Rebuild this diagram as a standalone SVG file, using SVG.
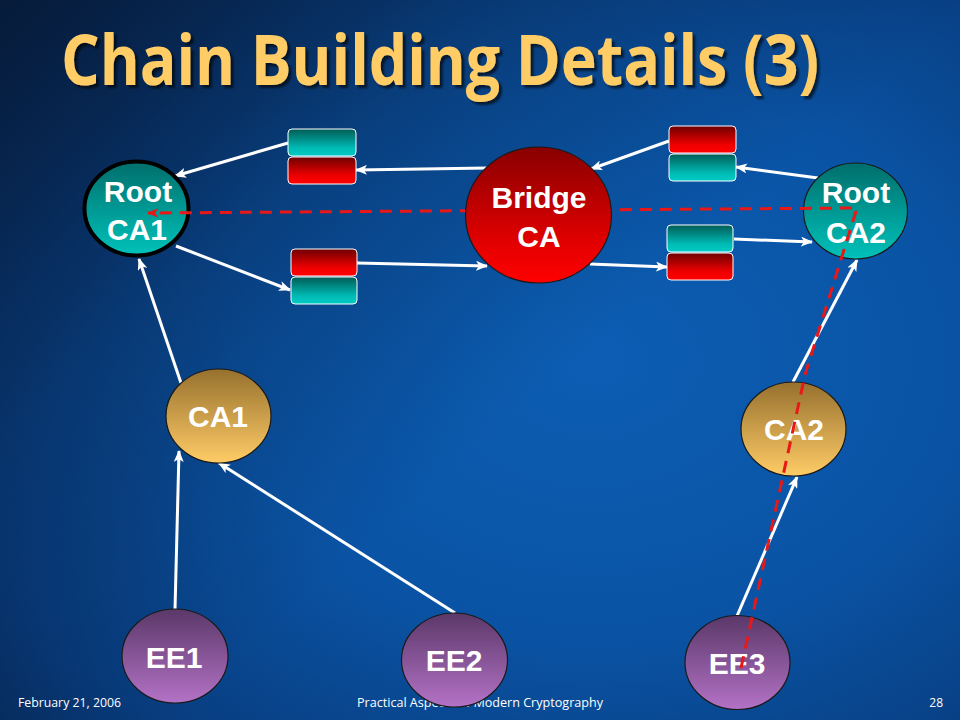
<svg xmlns="http://www.w3.org/2000/svg" width="960" height="720" viewBox="0 0 960 720">
  <defs>
    <radialGradient id="bg" cx="0.62" cy="0.5" r="0.85">
      <stop offset="0" stop-color="#0C5EB4"/>
      <stop offset="0.45" stop-color="#0A53A4"/>
      <stop offset="0.8" stop-color="#083C7E"/>
      <stop offset="1" stop-color="#062A5A"/>
    </radialGradient>
    <linearGradient id="bgTop" x1="0" y1="0" x2="0.6" y2="0.5">
      <stop offset="0" stop-color="#061A38" stop-opacity="0.95"/>
      <stop offset="0.5" stop-color="#061A38" stop-opacity="0.35"/>
      <stop offset="1" stop-color="#061A38" stop-opacity="0"/>
    </linearGradient>
    <linearGradient id="gTeal" x1="0" y1="0" x2="0" y2="1">
      <stop offset="0" stop-color="#006E6C"/>
      <stop offset="1" stop-color="#00C2BA"/>
    </linearGradient>
    <linearGradient id="gRed" x1="0" y1="0" x2="0" y2="1">
      <stop offset="0" stop-color="#880000"/>
      <stop offset="0.75" stop-color="#E80000"/>
      <stop offset="1" stop-color="#FF0000"/>
    </linearGradient>
    <linearGradient id="gGold" x1="0" y1="0" x2="0" y2="1">
      <stop offset="0" stop-color="#96702E"/>
      <stop offset="1" stop-color="#FFCC66"/>
    </linearGradient>
    <linearGradient id="gPurple" x1="0" y1="0" x2="0" y2="1">
      <stop offset="0" stop-color="#5A3868"/>
      <stop offset="1" stop-color="#B472C6"/>
    </linearGradient>
    <linearGradient id="rRed" x1="0" y1="0" x2="0" y2="1">
      <stop offset="0" stop-color="#6E0000"/>
      <stop offset="0.7" stop-color="#F00000"/>
      <stop offset="1" stop-color="#FF0000"/>
    </linearGradient>
    <linearGradient id="rTeal" x1="0" y1="0" x2="0" y2="1">
      <stop offset="0" stop-color="#005C56"/>
      <stop offset="0.7" stop-color="#00BAB4"/>
      <stop offset="1" stop-color="#00CCC6"/>
    </linearGradient>
    <filter id="shadow" x="-5%" y="-20%" width="110%" height="150%">
      <feDropShadow dx="3" dy="3" stdDeviation="0.8" flood-color="#000000" flood-opacity="0.6"/>
    </filter>
    <marker id="ah" viewBox="0 0 12 10" refX="11" refY="5" markerWidth="12" markerHeight="10" markerUnits="userSpaceOnUse" orient="auto">
      <path d="M0,0 L12,5 L0,10 L3,5 z" fill="#FFFFFF"/>
    </marker>
    <marker id="ahr" viewBox="0 0 12 10" refX="11" refY="5" markerWidth="11" markerHeight="10" markerUnits="userSpaceOnUse" orient="auto">
      <path d="M0,0 L12,5 L0,10 L3,5 z" fill="#E81818"/>
    </marker>
    <style>
      .lbl { font-family: "Liberation Sans", Arial, sans-serif; font-weight: bold; font-size: 30px; fill: #FFFFFF; text-anchor: middle; }
      .conn { stroke: #FFFFFF; stroke-width: 3; fill: none; marker-end: url(#ah); }
      .path { stroke: #E81818; stroke-width: 3; fill: none; stroke-dasharray: 12 8; marker-end: url(#ahr); }
      .cert { stroke: #FFFFFF; stroke-width: 1; }
      .thin { stroke: #1A1A1A; stroke-width: 1.2; }
      .foot { font-family: "Open Sans", "Liberation Sans", sans-serif; font-size: 12px; fill: #FFFFFF; }
      .title { font-family: "Open Sans", "Noto Sans", sans-serif; font-weight: bold; font-size: 70px; fill: #FFCC66; filter: url(#shadow); }
    </style>
  </defs>

  <!-- background -->
  <rect x="0" y="0" width="960" height="720" fill="url(#bg)"/>
  <rect x="0" y="0" width="960" height="720" fill="url(#bgTop)"/>

  <!-- footer -->
  <text class="foot" x="18" y="707" textLength="103" lengthAdjust="spacingAndGlyphs">February 21, 2006</text>
  <text class="foot" x="357" y="707" textLength="246" lengthAdjust="spacingAndGlyphs">Practical Aspects of Modern Cryptography</text>
  <text class="foot" x="943" y="707" text-anchor="end">28</text>

  <!-- title -->
  <text class="title" x="61" y="85" textLength="758" lengthAdjust="spacingAndGlyphs">Chain Building Details (3)</text>

  <!-- white connectors -->
  <g id="connectors">
    <line class="conn" x1="288" y1="143" x2="175" y2="176"/>
    <line class="conn" x1="488" y1="168" x2="356" y2="170"/>
    <line class="conn" x1="176" y1="246" x2="290" y2="290"/>
    <line class="conn" x1="357" y1="263" x2="487" y2="266"/>
    <line class="conn" x1="590" y1="264" x2="667" y2="267"/>
    <line class="conn" x1="734" y1="239" x2="812" y2="242"/>
    <line class="conn" x1="818" y1="178" x2="736" y2="167"/>
    <line class="conn" x1="669" y1="141" x2="591" y2="169"/>
    <line class="conn" x1="181" y1="383" x2="139" y2="259"/>
    <line class="conn" x1="175" y1="610" x2="179" y2="451"/>
    <line class="conn" x1="455" y1="613" x2="219" y2="463"/>
    <line class="conn" x1="793" y1="382" x2="857" y2="260"/>
    <line class="conn" x1="737" y1="616" x2="797" y2="477"/>
  </g>

  <!-- certificate pairs -->
  <g id="cert-pair-a">
    <rect class="cert" x="288" y="129" width="68" height="27" rx="4" fill="url(#rTeal)"/>
    <rect class="cert" x="288" y="157" width="68" height="27" rx="4" fill="url(#rRed)"/>
  </g>
  <g id="cert-pair-b">
    <rect class="cert" x="291" y="249" width="66" height="27" rx="4" fill="url(#rRed)"/>
    <rect class="cert" x="291" y="277" width="66" height="27" rx="4" fill="url(#rTeal)"/>
  </g>
  <g id="cert-pair-c">
    <rect class="cert" x="669" y="126" width="67" height="27" rx="4" fill="url(#rRed)"/>
    <rect class="cert" x="669" y="154" width="67" height="27" rx="4" fill="url(#rTeal)"/>
  </g>
  <g id="cert-pair-d">
    <rect class="cert" x="667" y="225" width="66" height="27" rx="4" fill="url(#rTeal)"/>
    <rect class="cert" x="667" y="253" width="66" height="27" rx="4" fill="url(#rRed)"/>
  </g>

  <!-- nodes -->
  <g id="node-root-ca1">
    <ellipse cx="136.5" cy="208.5" rx="52" ry="47" fill="url(#gTeal)" stroke="#000000" stroke-width="4"/>
    <text class="lbl" x="138" y="202">Root</text>
    <text class="lbl" x="137" y="240">CA1</text>
  </g>
  <g id="node-root-ca2">
    <ellipse class="thin" cx="855.5" cy="211" rx="52" ry="48" fill="url(#gTeal)"/>
    <text class="lbl" x="856" y="203">Root</text>
    <text class="lbl" x="856" y="243">CA2</text>
  </g>
  <g id="node-ca1">
    <ellipse class="thin" cx="218.5" cy="416" rx="52.5" ry="47" fill="url(#gGold)"/>
    <text class="lbl" x="218" y="427">CA1</text>
  </g>
  <g id="node-ca2">
    <ellipse class="thin" cx="793.5" cy="429" rx="52.5" ry="47" fill="url(#gGold)"/>
    <text class="lbl" x="794" y="440">CA2</text>
  </g>
  <g id="node-ee1">
    <ellipse class="thin" cx="175" cy="656" rx="53" ry="47" fill="url(#gPurple)"/>
    <text class="lbl" x="174" y="668">EE1</text>
  </g>
  <g id="node-ee2">
    <ellipse class="thin" cx="454.5" cy="660" rx="53" ry="47" fill="url(#gPurple)"/>
    <text class="lbl" x="454" y="671">EE2</text>
  </g>
  <g id="node-ee3">
    <ellipse class="thin" cx="737.5" cy="662.5" rx="52.5" ry="47" fill="url(#gPurple)"/>
    <text class="lbl" x="737" y="674">EE3</text>
  </g>

  <!-- red dashed chain path -->
  <g id="chain-path">
    <path class="path" d="M741,668 L805,375 L857,208 L148,213"/>
  </g>

  <g id="node-bridge-ca">
    <ellipse class="thin" cx="538.5" cy="215" rx="73" ry="68" fill="url(#gRed)"/>
    <text class="lbl" x="539" y="208">Bridge</text>
    <text class="lbl" x="539" y="247">CA</text>
  </g>
</svg>
